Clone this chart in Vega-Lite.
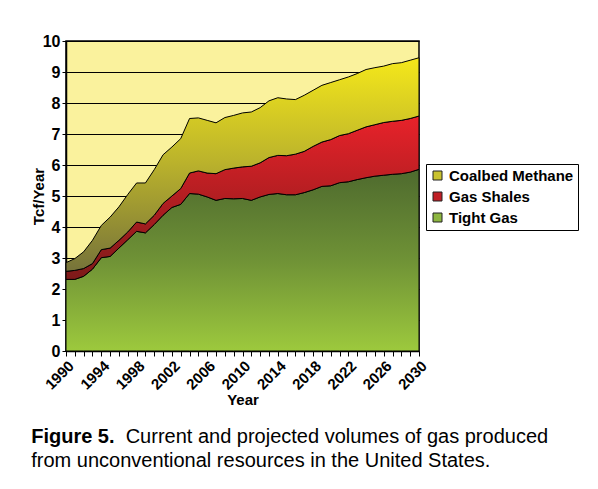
{
  "$schema": "https://vega.github.io/schema/vega-lite/v6.json",
  "width": 353,
  "height": 310,
  "autosize": {"type": "none"},
  "padding": {"left": 66, "top": 41, "right": 179, "bottom": 138},
  "background": "white",
  "title": {
    "text": "Figure 5.",
    "subtitle": ["\u200b\u00a0\u00a0\u00a0\u00a0\u00a0\u00a0\u00a0\u00a0\u00a0\u00a0\u00a0\u00a0\u00a0\u00a0\u00a0\u00a0\u00a0Current and projected volumes of gas produced", "from unconventional resources in the United States."],
    "orient": "bottom",
    "anchor": "start",
    "frame": "bounds",
    "font": "Liberation Sans",
    "fontSize": 20,
    "fontWeight": "bold",
    "color": "black",
    "subtitleFont": "Liberation Sans",
    "subtitleFontSize": 20,
    "subtitleFontWeight": "normal",
    "subtitleColor": "black",
    "subtitleLineHeight": 23.4,
    "subtitlePadding": -20,
    "offset": 20
  },
  "data": {
    "values": [
      {"year": 1990, "Tight Gas": 2.31, "Gas Shales": 0.26, "Coalbed Methane": 0.28},
      {"year": 1991, "Tight Gas": 2.31, "Gas Shales": 0.29, "Coalbed Methane": 0.38},
      {"year": 1992, "Tight Gas": 2.41, "Gas Shales": 0.25, "Coalbed Methane": 0.54},
      {"year": 1993, "Tight Gas": 2.64, "Gas Shales": 0.18, "Coalbed Methane": 0.75},
      {"year": 1994, "Tight Gas": 3.01, "Gas Shales": 0.26, "Coalbed Methane": 0.78},
      {"year": 1995, "Tight Gas": 3.05, "Gas Shales": 0.27, "Coalbed Methane": 1.00},
      {"year": 1996, "Tight Gas": 3.32, "Gas Shales": 0.25, "Coalbed Methane": 1.08},
      {"year": 1997, "Tight Gas": 3.59, "Gas Shales": 0.25, "Coalbed Methane": 1.21},
      {"year": 1998, "Tight Gas": 3.86, "Gas Shales": 0.30, "Coalbed Methane": 1.26},
      {"year": 1999, "Tight Gas": 3.81, "Gas Shales": 0.29, "Coalbed Methane": 1.32},
      {"year": 2000, "Tight Gas": 4.08, "Gas Shales": 0.30, "Coalbed Methane": 1.47},
      {"year": 2001, "Tight Gas": 4.38, "Gas Shales": 0.38, "Coalbed Methane": 1.57},
      {"year": 2002, "Tight Gas": 4.63, "Gas Shales": 0.37, "Coalbed Methane": 1.58},
      {"year": 2003, "Tight Gas": 4.73, "Gas Shales": 0.51, "Coalbed Methane": 1.61},
      {"year": 2004, "Tight Gas": 5.08, "Gas Shales": 0.66, "Coalbed Methane": 1.76},
      {"year": 2005, "Tight Gas": 5.06, "Gas Shales": 0.75, "Coalbed Methane": 1.71},
      {"year": 2006, "Tight Gas": 4.97, "Gas Shales": 0.77, "Coalbed Methane": 1.70},
      {"year": 2007, "Tight Gas": 4.86, "Gas Shales": 0.86, "Coalbed Methane": 1.64},
      {"year": 2008, "Tight Gas": 4.92, "Gas Shales": 0.93, "Coalbed Methane": 1.68},
      {"year": 2009, "Tight Gas": 4.91, "Gas Shales": 0.99, "Coalbed Methane": 1.70},
      {"year": 2010, "Tight Gas": 4.92, "Gas Shales": 1.02, "Coalbed Methane": 1.74},
      {"year": 2011, "Tight Gas": 4.86, "Gas Shales": 1.10, "Coalbed Methane": 1.75},
      {"year": 2012, "Tight Gas": 4.97, "Gas Shales": 1.10, "Coalbed Methane": 1.78},
      {"year": 2013, "Tight Gas": 5.05, "Gas Shales": 1.19, "Coalbed Methane": 1.83},
      {"year": 2014, "Tight Gas": 5.08, "Gas Shales": 1.23, "Coalbed Methane": 1.86},
      {"year": 2015, "Tight Gas": 5.04, "Gas Shales": 1.26, "Coalbed Methane": 1.83},
      {"year": 2016, "Tight Gas": 5.04, "Gas Shales": 1.31, "Coalbed Methane": 1.76},
      {"year": 2017, "Tight Gas": 5.11, "Gas Shales": 1.33, "Coalbed Methane": 1.81},
      {"year": 2018, "Tight Gas": 5.20, "Gas Shales": 1.40, "Coalbed Methane": 1.81},
      {"year": 2019, "Tight Gas": 5.31, "Gas Shales": 1.43, "Coalbed Methane": 1.83},
      {"year": 2020, "Tight Gas": 5.33, "Gas Shales": 1.49, "Coalbed Methane": 1.84},
      {"year": 2021, "Tight Gas": 5.43, "Gas Shales": 1.52, "Coalbed Methane": 1.80},
      {"year": 2022, "Tight Gas": 5.46, "Gas Shales": 1.55, "Coalbed Methane": 1.83},
      {"year": 2023, "Tight Gas": 5.53, "Gas Shales": 1.59, "Coalbed Methane": 1.83},
      {"year": 2024, "Tight Gas": 5.59, "Gas Shales": 1.64, "Coalbed Methane": 1.85},
      {"year": 2025, "Tight Gas": 5.64, "Gas Shales": 1.66, "Coalbed Methane": 1.84},
      {"year": 2026, "Tight Gas": 5.67, "Gas Shales": 1.70, "Coalbed Methane": 1.82},
      {"year": 2027, "Tight Gas": 5.70, "Gas Shales": 1.71, "Coalbed Methane": 1.86},
      {"year": 2028, "Tight Gas": 5.72, "Gas Shales": 1.72, "Coalbed Methane": 1.86},
      {"year": 2029, "Tight Gas": 5.77, "Gas Shales": 1.73, "Coalbed Methane": 1.88},
      {"year": 2030, "Tight Gas": 5.86, "Gas Shales": 1.72, "Coalbed Methane": 1.88}
    ]
  },
  "transform": [
    {"fold": ["Tight Gas", "Gas Shales", "Coalbed Methane"], "as": ["series", "value"]},
    {"stack": "value", "groupby": ["year"], "sort": [{"field": "series", "order": "descending"}], "as": ["v0", "v1"]}
  ],
  "encoding": {
    "x": {
      "field": "year",
      "type": "quantitative",
      "scale": {"domain": [1990, 2030], "nice": false, "zero": false},
      "axis": {
        "title": "Year",
        "values": [1990,1991,1992,1993,1994,1995,1996,1997,1998,1999,2000,2001,2002,2003,2004,2005,2006,2007,2008,2009,2010,2011,2012,2013,2014,2015,2016,2017,2018,2019,2020,2021,2022,2023,2024,2025,2026,2027,2028,2029,2030],
        "format": "d",
        "labelExpr": "datum.value % 4 == 2 ? datum.label : ''",
        "labelOverlap": false,
        "labelAngle": -45,
        "labelFont": "Liberation Sans",
        "labelFontSize": 15,
        "labelFontWeight": "bold",
        "labelColor": "black",
        "labelPadding": 2,
        "tickSize": 5,
        "tickColor": "black",
        "tickWidth": 1,
        "domainColor": "black",
        "domainWidth": 1.5,
        "grid": false,
        "titleFont": "Liberation Sans",
        "titleFontSize": 15,
        "titleFontWeight": "bold",
        "titleColor": "black",
        "titlePadding": 0
      }
    },
    "y": {
      "field": "v1",
      "type": "quantitative",
      "scale": {"domain": [0, 10], "nice": false},
      "axis": {
        "title": "Tcf/Year",
        "values": [0,1,2,3,4,5,6,7,8,9,10],
        "grid": true,
        "gridColor": "black",
        "gridOpacity": 1,
        "gridWidth": 1,
        "labelFont": "Liberation Sans",
        "labelFontSize": 16,
        "labelFontWeight": "bold",
        "labelColor": "black",
        "labelPadding": 2,
        "tickSize": 4,
        "tickColor": "black",
        "domainColor": "black",
        "domainWidth": 1.5,
        "titleFont": "Liberation Sans",
        "titleFontSize": 15,
        "titleFontWeight": "bold",
        "titleColor": "black",
        "titlePadding": -4
      }
    },
    "y2": {"field": "v0"}
  },
  "layer": [
    {
      "mark": {"type": "area", "opacity": 1},
      "encoding": {
        "color": {
          "field": "series",
          "type": "nominal",
          "scale": {"domain": ["Coalbed Methane", "Gas Shales", "Tight Gas"], "range": ["#c9c22e", "#c01f26", "#8db640"]},
          "legend": {
            "title": null,
            "orient": "none",
            "legendX": 360,
            "legendY": 123,
            "strokeColor": "black",
            "fillColor": "white",
            "padding": 4,
            "symbolType": "square",
            "symbolSize": 81,
            "symbolStrokeColor": "#222222",
            "symbolStrokeWidth": 1,
            "symbolOpacity": 1,
            "labelFont": "Liberation Sans",
            "labelFontSize": 15,
            "labelFontWeight": "bold",
            "labelColor": "black",
            "labelOffset": 4,
            "rowPadding": 5
          }
        }
      }
    },
    {
      "transform": [{"filter": "datum.series == 'Tight Gas'"}],
      "mark": {
        "type": "area",
        "stroke": "black",
        "strokeWidth": 1,
        "fill": {"gradient": "linear", "x1": 0, "y1": 0, "x2": 0, "y2": 1,
          "stops": [{"offset": 0, "color": "#4e6a2e"}, {"offset": 0.5, "color": "#6f9236"}, {"offset": 1, "color": "#9dc93d"}]}
      }
    },
    {
      "transform": [{"filter": "datum.series == 'Gas Shales'"}],
      "mark": {
        "type": "area",
        "stroke": "black",
        "strokeWidth": 1,
        "fill": {"gradient": "linear", "x1": 0, "y1": 0, "x2": 0, "y2": 1,
          "stops": [{"offset": 0, "color": "#e8222a"}, {"offset": 1, "color": "#7d1a19"}]}
      }
    },
    {
      "transform": [{"filter": "datum.series == 'Coalbed Methane'"}],
      "mark": {
        "type": "area",
        "stroke": "black",
        "strokeWidth": 1,
        "fill": {"gradient": "linear", "x1": 0, "y1": 0, "x2": 0, "y2": 1,
          "stops": [{"offset": 0, "color": "#f5e81a"}, {"offset": 0.5, "color": "#b9b12c"}, {"offset": 1, "color": "#76733a"}]}
      }
    }
  ],
  "config": {
    "view": {"fill": "#faf29d", "stroke": "black", "strokeWidth": 1.5},
    "font": "Liberation Sans"
  }
}
